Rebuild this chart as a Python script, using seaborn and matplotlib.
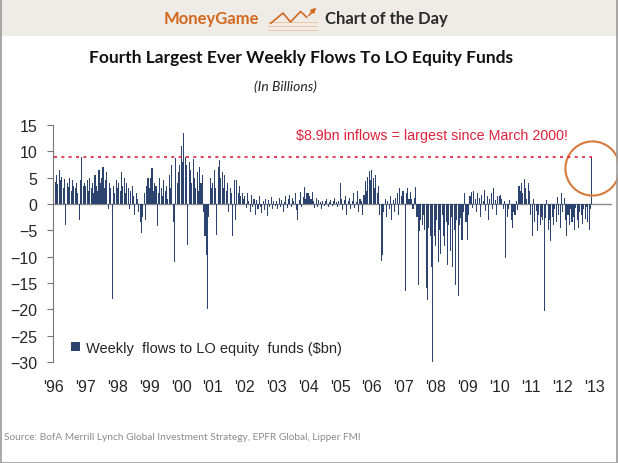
import numpy as np
import pandas as pd
import matplotlib.pyplot as plt
import matplotlib.transforms as mtransforms
from matplotlib.patches import Rectangle
import seaborn as sns

# Weekly flows to long-only equity funds ($bn)
# (roughly two readings per month)
flows_1996 = [5.0, 4.2, 5.5, 3.8, 6.5, 4.5, 5.2, 3.0, 4.8, -3.9, 4.0, 3.2,
              5.0, 2.5, 4.5, 3.5, 3.0, 4.0, 2.0, -3.0, 4.5, 9.0, 3.5, 4.0]
flows_1997 = [3.5, 4.5, 2.5, 5.0, 3.0, 4.0, 2.0, 5.5, 3.5, 2.5, 6.5, 4.0,
              5.0, 7.0, 3.0, 4.5, 6.0, -1.0, 4.0, 3.0, -18.0, 3.5, 2.0, 4.5]
flows_1998 = [3.0, 4.0, 2.5, 6.0, 3.5, 5.0, 2.0, 4.0, 3.0, -1.0, 2.5, 3.5,
              1.5, -2.0, 2.0, 1.0, -1.5, -3.5, -5.5, -2.5, 2.0, -3.0, 3.5, 5.0]
flows_1999 = [3.0, 5.0, 6.8, 2.5, 4.0, 3.5, -4.2, 2.0, 5.0, 3.0, 1.5, 4.5,
              2.5, 3.5, 1.0, 5.5, 3.0, 7.5, -3.5, -11.0, 8.7, 4.0, 6.0, 7.5]
flows_2000 = [11.0, 8.0, 13.5, 9.0, 7.5, -7.7, 8.0, 6.5, 4.0, 8.5, 5.0, 3.0,
              6.0, 2.5, 7.0, 4.0, 5.5, -1.5, -6.0, -9.6, -20.0, -2.5, 5.0, 3.0]
flows_2001 = [4.0, 6.5, 3.0, -5.8, 7.0, 8.4, 5.0, 6.0, 3.0, 5.5, 2.5, 4.0,
              -1.5, 3.0, 2.0, -6.1, 4.5, -3.0, 4.5, 2.0, 3.5, 1.5, 2.0, 1.0]
flows_2002 = [1.5, -0.8, 2.0, 0.5, -1.5, 1.8, -0.5, 1.0, -2.0, 0.8, -1.0, 1.5,
              -0.5, -1.8, 0.5, -1.2, 1.0, -2.2, 0.8, -0.6, 1.4, -1.0, 0.6, -0.4]
flows_2003 = [0.5, -1.0, 1.2, -0.6, 0.8, -1.5, 0.4, 1.6, -0.8, 1.0, 1.8, -0.5,
              1.2, 0.6, 2.0, -1.2, -3.0, 0.8, 2.2, -0.6, 1.4, 3.3, 1.0, 2.0]
flows_2004 = [2.0, 1.5, 1.0, 2.2, 0.5, -0.8, 1.2, -0.5, 0.8, 0.3, -1.0, 0.6,
              -0.4, 0.5, 1.0, -0.6, 0.3, 0.8, -0.3, 0.5, 1.2, 0.4, -0.5, 0.6]
flows_2005 = [4.0, 1.0, -1.2, 0.8, 1.5, -2.0, 0.5, 1.2, -1.0, 0.6, 2.0, -0.8,
              0.4, 2.5, -1.5, 1.0, 0.5, -2.0, 1.8, 4.3, 2.5, 5.2, 6.2, 4.5]
flows_2006 = [6.5, 5.0, 3.0, 5.5, 2.0, 3.5, -2.0, -10.9, -9.6, -1.5, 1.0, -2.5,
              0.5, -1.0, 1.5, -3.0, 0.8, -1.5, 1.2, 2.0, -2.0, 3.0, 1.5, 2.5]
flows_2007 = [2.5, -16.5, 2.0, 3.0, 1.0, 2.2, 1.0, -1.0, 1.2, 3.3, -2.5, -15.3,
              -5.2, -3.0, -4.0, -2.0, -5.0, -16.0, -18.3, -4.5, -6.0, -12.0, -30.0, -6.0]
flows_2008 = [-8.0, -3.0, -11.0, -5.0, -9.5, -2.0, -6.0, -8.0, -3.5, -11.5, -4.0, -9.0,
              -2.5, -12.0, -5.0, -15.3, -3.0, -17.5, -4.0, -2.6, -6.8, -1.5, 2.0, -3.5]
flows_2009 = [-6.8, -2.0, 1.5, 2.2, -0.8, 2.4, 1.0, -1.5, 2.0, 1.2, -2.5, 1.8,
              0.6, 2.7, -1.4, 1.5, -3.0, 1.0, 2.0, -1.0, 3.0, 0.8, -2.0, 1.5]
flows_2010 = [1.5, 1.8, 1.0, -1.0, 0.5, -10.2, -2.5, -1.0, 0.8, -3.0, -4.5, -1.5,
              -2.0, 0.6, -1.2, 3.5, 2.5, 4.0, 2.0, 4.7, 3.0, 1.0, 4.0, 2.5]
flows_2011 = [-2.0, -6.1, 1.0, -3.5, -1.4, -5.2, -2.0, -4.0, -2.5, -3.0, -20.3, -2.6,
              0.8, -5.0, -3.0, -7.0, -2.5, -4.0, -1.0, -3.5, 1.3, -2.0, -4.5, 2.1]
flows_2012 = [-1.5, 1.1, -3.0, -6.1, -2.0, -4.0, -1.0, -3.5, -2.5, -5.0, -0.8, -3.0,
              -4.5, -1.5, -2.0, -3.8, -1.0, -2.8, -0.6, -3.5, -4.9, -1.0, 8.9]

flows = (flows_1996 + flows_1997 + flows_1998 + flows_1999 + flows_2000 + flows_2001
         + flows_2002 + flows_2003 + flows_2004 + flows_2005 + flows_2006 + flows_2007
         + flows_2008 + flows_2009 + flows_2010 + flows_2011 + flows_2012)
period = 1996 + np.arange(len(flows)) / 24

years = list(range(1996, 2014))
year_labels = ["'96", "'97", "'98", "'99", "'00", "'01", "'02", "'03", "'04",
               "'05", "'06", "'07", "'08", "'09", "'10", "'11", "'12", "'13"]
y_ticks = [15, 10, 5, 0, -5, -10, -15, -20, -25, -30]
record_level = 8.9

df = pd.DataFrame({'period': period, 'flow': flows})

sns.set_style('white')
plt.rcParams['font.family'] = ['Liberation Sans', 'DejaVu Sans']

navy = '#213f7a'
red = '#e0213b'
orange = '#d2691e'

fig = plt.figure(figsize=(6.18, 4.64), dpi=100)
ax = fig.add_axes([53 / 618, 1 - 363 / 464, (612 - 53) / 618, 237 / 464])

sns.barplot(data=df, x='period', y='flow', native_scale=True, width=0.8,
            color=navy, linewidth=0, errorbar=None, ax=ax,
            label='Weekly  flows to LO equity  funds ($bn)')

ax.axhline(0, color='#8a8a8a', lw=1, zorder=0)
ax.hlines(record_level, period[0], period[-1], colors=red, lw=1.2,
          linestyles=(0, (1.8, 2.6)), zorder=3)

# circle around the latest week
circ_off = mtransforms.ScaledTranslation(0, -0.11, fig.dpi_scale_trans)
ax.plot([period[-1]], [flows[-1]], marker='o', ms=39, mfc='none', mec='#d6793c',
        mew=1.5, transform=ax.transData + circ_off, clip_on=False)

ax.text(2007.88, 13.1, '$8.9bn inflows = largest since March 2000!', color=red,
        fontsize=10.3, ha='center', va='center')

ax.set_xlim(1995.97, 2013.55)
ax.set_ylim(-30, 15)
ax.set_xticks(years)
ax.set_xticklabels(year_labels)
ax.set_yticks(y_ticks)
ax.tick_params(axis='x', length=0, pad=12, labelsize=11.5)
ax.tick_params(axis='y', length=4, width=0.8, color='#777777', pad=7, labelsize=11.5, left=True)
for s in ['top', 'right', 'bottom']:
    ax.spines[s].set_visible(False)
ax.spines['left'].set_color('#777777')
ax.spines['left'].set_linewidth(0.8)
ax.set_xlabel('')
ax.set_ylabel('')

ax.legend(loc='center left', bbox_to_anchor=(0.02, 0.06), frameon=False,
          handlelength=0.6, handleheight=0.6, handletextpad=0.4, borderpad=0,
          fontsize=10.5)

# header band
fig.patches.append(Rectangle((0, 1 - 37 / 464), 1, 37 / 464, transform=fig.transFigure,
                             facecolor='#efebe7', edgecolor='none', zorder=-1))
fig.patches.append(Rectangle((0.001, 0.001), 0.998, 0.998, transform=fig.transFigure,
                             facecolor='none', edgecolor='#9a9a9a', lw=1.2, zorder=5))
fig.text(211 / 618, 1 - 19 / 464, 'MoneyGame', color=orange, fontsize=12,
         fontweight='bold', family=['Lato', 'DejaVu Sans'], ha='center', va='center')
fig.text(386 / 618, 1 - 19 / 464, 'Chart of the Day', color='#2b2b2b', fontsize=12,
         fontweight='bold', family=['Lato', 'DejaVu Sans'], ha='center', va='center')

# small logo: zigzag arrow over faint lines
lax = fig.add_axes([268 / 618, 1 - 35 / 464, 50 / 618, 30 / 464])
lax.set_axis_off()
for yy in [0.12, 0.26, 0.40]:
    lax.axhline(yy, color='#f1c4a2', lw=0.7)
lax.plot([0.05, 0.3, 0.45, 0.65, 0.78], [0.35, 0.7, 0.4, 0.75, 0.55], color=orange, lw=1.2)
lax.annotate('', xy=(1.0, 0.95), xytext=(0.78, 0.55),
             arrowprops=dict(arrowstyle='-|>', color=orange, lw=1.2, mutation_scale=7))
lax.set_xlim(0, 1)
lax.set_ylim(0, 1)

fig.text(301 / 618, 1 - 58 / 464, 'Fourth Largest Ever Weekly Flows To LO Equity Funds',
         fontsize=12.5, fontweight='bold', family=['Lato', 'DejaVu Sans'],
         ha='center', va='center', color='#111111')
fig.text(285 / 618, 1 - 87 / 464, '(In Billions)', fontsize=10, style='italic',
         family=['Lato', 'DejaVu Sans'], ha='center', va='center', color='#222222')
fig.text(4 / 618, 1 - 438 / 464,
         'Source: BofA Merrill Lynch Global Investment Strategy, EPFR Global, Lipper FMI',
         fontsize=7.3, color='#8c8c8c', family=['Lato', 'DejaVu Sans'], ha='left', va='center')

fig.savefig('out.png', dpi=100)
